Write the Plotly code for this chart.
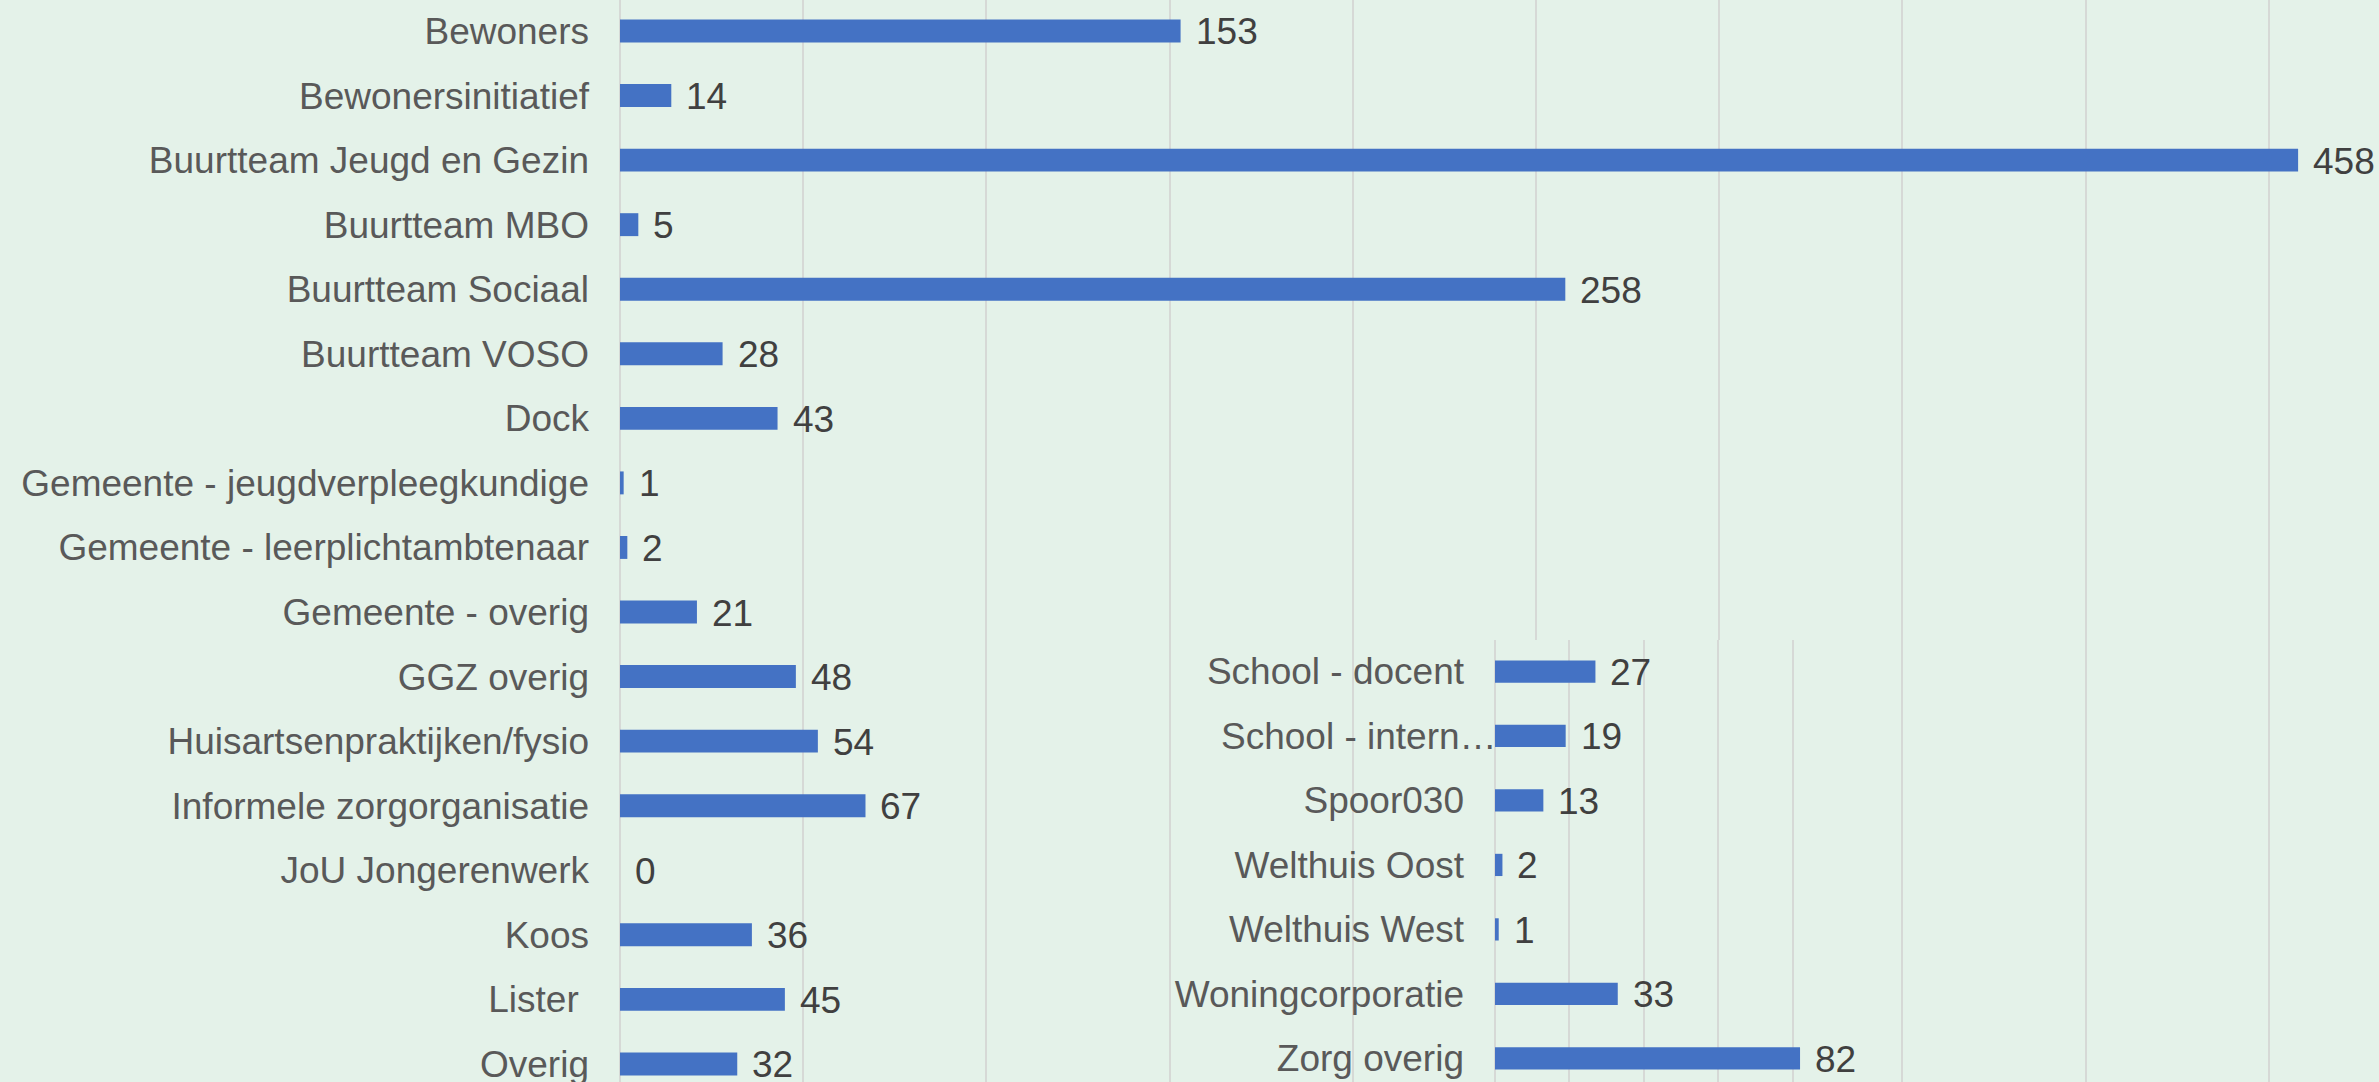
import plotly.graph_objects as go

# ---- data ----
main_categories = [
    "Bewoners", "Bewonersinitiatief", "Buurtteam Jeugd en Gezin", "Buurtteam MBO",
    "Buurtteam Sociaal", "Buurtteam VOSO", "Dock", "Gemeente - jeugdverpleegkundige",
    "Gemeente - leerplichtambtenaar", "Gemeente - overig", "GGZ overig",
    "Huisartsenpraktijken/fysio", "Informele zorgorganisatie", "JoU Jongerenwerk",
    "Koos", "Lister ", "Overig",
]
main_values = [153, 14, 458, 5, 258, 28, 43, 1, 2, 21, 48, 54, 67, 0, 36, 45, 32]

second_categories = [
    "School - docent", "School - intern…", "Spoor030", "Welthuis Oost",
    "Welthuis West", "Woningcorporatie", "Zorg overig",
]
second_values = [27, 19, 13, 2, 1, 33, 82]
# the truncated label is drawn as an overhanging text (like the original)
truncated_label = "School - intern…"

main_ticks = [0, 50, 100, 150, 200, 250, 300, 350, 400, 450]
second_ticks = [0, 20, 40, 60, 80, 100]

# ---- style ----
W, H = 2379, 1082
BG = "#E4F2E9"
BAR = "#4472C4"
GRID = "#D6D9D6"
LABEL = "#595959"
VALUE = "#404040"
FONT = "Arial, Liberation Sans, sans-serif"
FS = 37

fig = go.Figure()

fig.add_trace(go.Bar(
    x=main_values, y=main_categories, orientation="h",
    marker=dict(color=BAR, line=dict(width=0)), width=0.355,
    xaxis="x", yaxis="y", hoverinfo="skip",
))
fig.add_trace(go.Bar(
    x=second_values, y=second_categories, orientation="h",
    marker=dict(color=BAR, line=dict(width=0)), width=0.345,
    xaxis="x2", yaxis="y2", hoverinfo="skip",
))

annotations = []
for c, v in zip(main_categories, main_values):
    annotations.append(dict(
        x=v, y=c, xref="x", yref="y", text=str(v), showarrow=False,
        xanchor="left", yanchor="middle", xshift=13, yshift=-1,
        font=dict(family=FONT, size=FS, color=VALUE),
    ))
for c, v in zip(second_categories, second_values):
    annotations.append(dict(
        x=v, y=c, xref="x2", yref="y2", text=str(v), showarrow=False,
        xanchor="left", yanchor="middle", xshift=13, yshift=-1,
        font=dict(family=FONT, size=FS, color=VALUE),
    ))
annotations.append(dict(
    x=0, y=truncated_label, xref="x2", yref="y2", text=truncated_label,
    showarrow=False, xanchor="right", yanchor="middle", xshift=4, yshift=-1,
    font=dict(family=FONT, size=FS, color=LABEL),
))

second_ticktext = ["" if c == truncated_label else c for c in second_categories]

x1_left = 620 / W
x2_left = 1495 / W
x2_right = 1867 / W

fig.update_layout(
    width=W, height=H,
    margin=dict(l=0, r=0, t=0, b=0),
    paper_bgcolor=BG, plot_bgcolor=BG,
    showlegend=False,
    font=dict(family=FONT, size=FS, color=LABEL),
    annotations=annotations,
    xaxis=dict(
        domain=[x1_left, 1.0], range=[0, (W - 620) / 3.664],
        tickvals=main_ticks, showticklabels=False,
        showgrid=True, gridcolor=GRID, gridwidth=2,
        zeroline=True, zerolinecolor=GRID, zerolinewidth=2,
        showline=False, fixedrange=True,
    ),
    yaxis=dict(
        domain=[0, 1], range=[16.28, -0.48],
        type="category", categoryorder="array", categoryarray=main_categories,
        showgrid=False, zeroline=False, showline=False,
        ticks="", ticklabelstandoff=30, automargin=False,
        tickfont=dict(family=FONT, size=FS, color=LABEL), fixedrange=True,
    ),
    xaxis2=dict(
        domain=[x2_left, x2_right], range=[0, 100], anchor="y2",
        tickvals=second_ticks, showticklabels=False,
        showgrid=True, gridcolor=GRID, gridwidth=2,
        zeroline=True, zerolinecolor=GRID, zerolinewidth=2,
        showline=False, fixedrange=True,
    ),
    yaxis2=dict(
        domain=[0, 442 / H], range=[6.367, -0.489], anchor="x2",
        type="category", categoryorder="array", categoryarray=second_categories,
        tickvals=second_categories, ticktext=second_ticktext,
        showgrid=False, zeroline=False, showline=False,
        ticks="", ticklabelstandoff=30, automargin=False,
        tickfont=dict(family=FONT, size=FS, color=LABEL), fixedrange=True,
    ),
)

fig.write_html(
    "out.html",
    config=dict(displayModeBar=False),
    post_script="document.body.style.margin='0';document.body.style.overflow='hidden';",
)
